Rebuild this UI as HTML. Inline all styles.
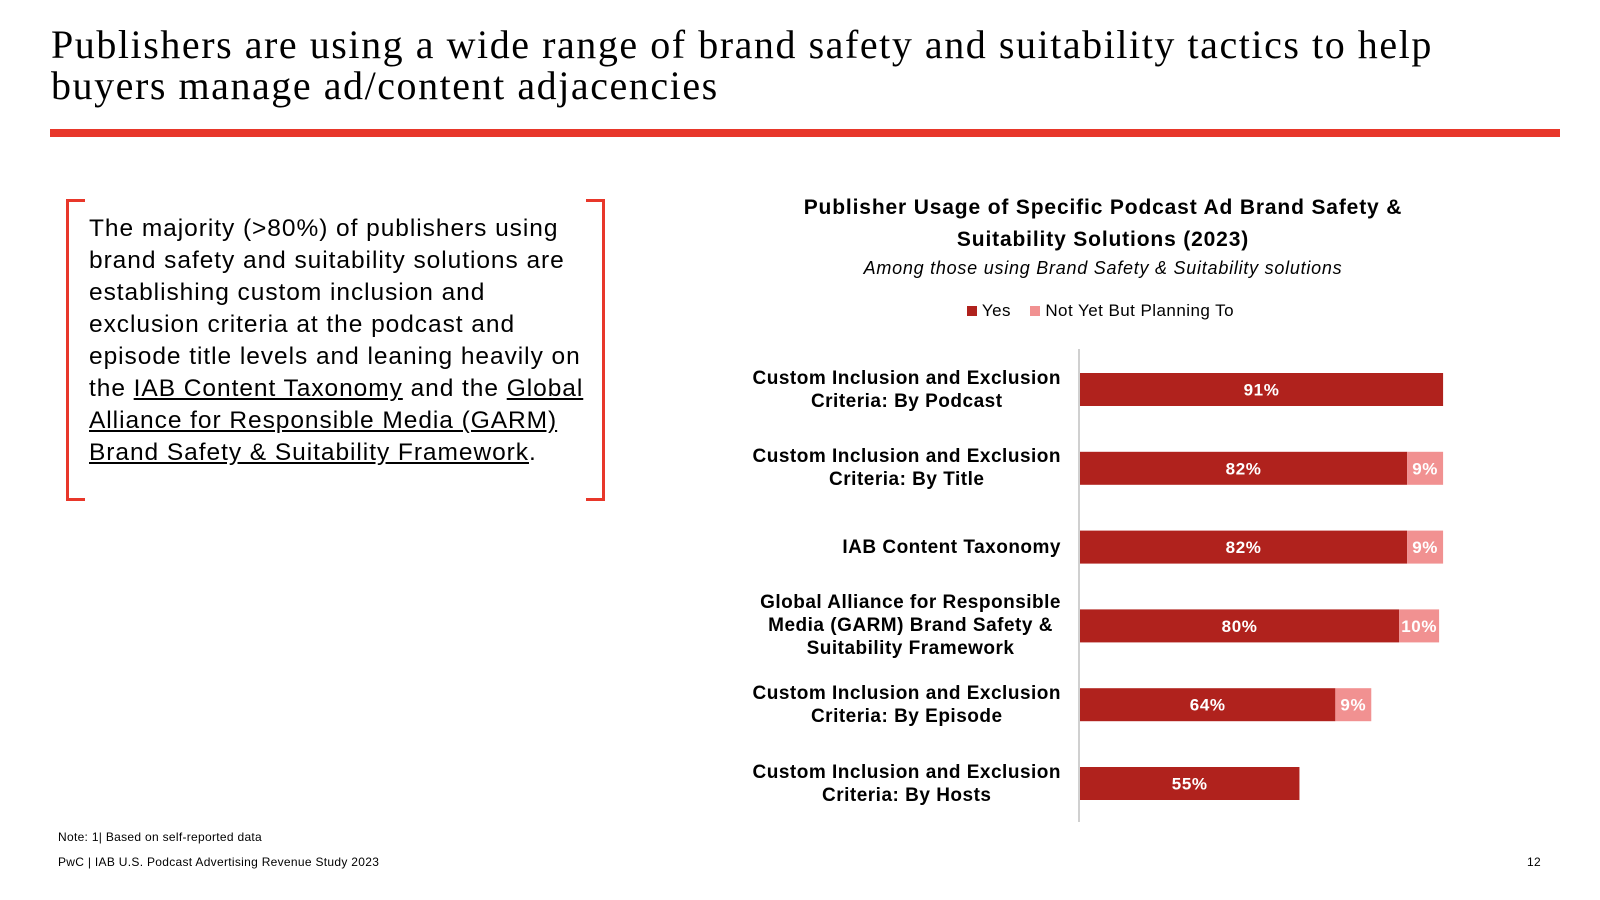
<!DOCTYPE html>
<html><head><meta charset="utf-8"><style>
body{margin:0;width:1600px;height:900px;background:#fff;position:relative;overflow:hidden;font-family:"Liberation Sans",Arial,sans-serif;color:#000}
.abs{position:absolute}
#title{left:51px;top:24px;font-family:"Liberation Serif",Georgia,serif;font-size:40px;line-height:41px;letter-spacing:1.55px;white-space:nowrap}
#rule{left:50px;top:129px;width:1510px;height:8px;background:#e8372a}
.br{position:absolute;border:3px solid #e8372a;width:16px;top:199px;height:296px}
#body{left:89px;top:213px;font-size:24.5px;line-height:32px;letter-spacing:0.95px;white-space:nowrap}
#body u{text-decoration:underline}
.ct{left:760px;width:686px;text-align:center}
.lbl{position:absolute;right:539px;text-align:center;font-weight:bold;font-size:19px;line-height:23px;letter-spacing:0.5px;white-space:nowrap}
.foot{font-size:12px;letter-spacing:0.3px}
</style></head><body>
<div id="title" class="abs">Publishers are using a wide range of brand safety and suitability tactics to help<br>buyers manage ad/content adjacencies</div>
<div id="rule" class="abs"></div>
<div class="br" style="left:66px;border-right:none"></div>
<div class="br" style="left:586px;border-left:none"></div>
<div id="body" class="abs">The majority (&gt;80%) of publishers using<br>brand safety and suitability solutions are<br>establishing custom inclusion and<br>exclusion criteria at the podcast and<br>episode title levels and leaning heavily on<br>the <u>IAB Content Taxonomy</u> and the <u>Global<br>Alliance for Responsible Media (GARM)<br>Brand Safety &amp; Suitability Framework</u>.</div>
<div class="abs ct" style="top:192px;font-weight:bold;font-size:21px;line-height:32px;letter-spacing:0.85px">Publisher Usage of Specific Podcast Ad Brand Safety &amp;<br>Suitability Solutions (2023)</div>
<div class="abs ct" style="top:258px;font-style:italic;font-size:18px;letter-spacing:0.75px">Among those using Brand Safety &amp; Suitability solutions</div>
<div class="abs" style="left:967px;top:301px;font-size:17px;letter-spacing:0.45px">
<span><span style="display:inline-block;width:10px;height:10px;background:#b0221d"></span> Yes</span>
<span style="margin-left:14px"><span style="display:inline-block;width:10px;height:10px;background:#f19191"></span> Not Yet But Planning To</span>
</div>
<svg class="abs" style="left:0;top:0" width="1600" height="900" id="chart"></svg>
<div id="labels"></div>
<div class="abs foot" style="left:58px;top:830px">Note: 1| Based on self-reported data</div>
<div class="abs foot" style="left:58px;top:855px">PwC | IAB U.S. Podcast Advertising Revenue Study 2023</div>
<div class="abs foot" style="left:1527px;top:855px">12</div>
<script>
const categories=["Custom Inclusion and Exclusion<br>Criteria: By Podcast","Custom Inclusion and Exclusion<br>Criteria: By Title","IAB Content Taxonomy","Global Alliance for Responsible<br>Media (GARM) Brand Safety &amp;<br>Suitability Framework","Custom Inclusion and Exclusion<br>Criteria: By Episode","Custom Inclusion and Exclusion<br>Criteria: By Hosts"];
const yesValues=[91,82,82,80,64,55];
const planValues=[0,9,9,10,9,0];
const x0=1080,pxPer=3.99,yTop=373,step=78.8,bh=33;
const xs=v=>v*pxPer;
const ys=i=>yTop+i*step;
const svg=document.getElementById('chart');
const NS='http://www.w3.org/2000/svg';
const ax=document.createElementNS(NS,'line');
ax.setAttribute('x1',1079);ax.setAttribute('x2',1079);ax.setAttribute('y1',349);ax.setAttribute('y2',822);
ax.setAttribute('stroke','#d0d0d0');ax.setAttribute('stroke-width',2);


svg.appendChild(ax);
function rect(x,y,w,c,name){const r=document.createElementNS(NS,'rect');r.setAttribute('x',x);r.setAttribute('y',y);r.setAttribute('width',w);r.setAttribute('height',bh);r.setAttribute('fill',c);


svg.appendChild(r);}
function txt(x,y,s,name){const t=document.createElementNS(NS,'text');t.setAttribute('x',x);t.setAttribute('y',y);t.setAttribute('text-anchor','middle');t.setAttribute('fill','#fff');t.setAttribute('font-weight','bold');t.setAttribute('font-size','17');t.setAttribute('letter-spacing','0.6');t.setAttribute('font-family','Liberation Sans, Arial, sans-serif');t.textContent=s;


svg.appendChild(t);}
const lab=document.getElementById('labels');
categories.forEach((c,i)=>{
 const y=ys(i),wy=xs(yesValues[i]);
 rect(x0,y,wy,'#b0221d','bar-yes-'+i);
 txt(x0+wy/2,y+bh/2+6,yesValues[i]+'%','value-yes-'+i);
 if(planValues[i]>0){const wp=xs(planValues[i]);rect(x0+wy,y,wp,'#f19191','bar-planning-'+i);txt(x0+wy+wp/2,y+bh/2+6,planValues[i]+'%','value-planning-'+i);}
 const d=document.createElement('div');d.className='lbl';d.innerHTML=c;
 
 
 const lines=c.split('<br>').length;
 d.style.top=(y+bh/2-lines*23/2)+'px';
 lab.appendChild(d);
});
</script>
</body></html>
